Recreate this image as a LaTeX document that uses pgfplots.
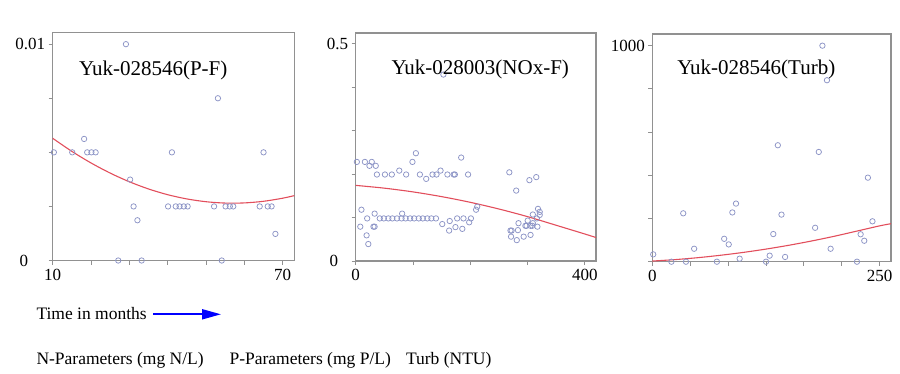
\documentclass[border=0pt]{standalone}
\usepackage{fontspec}
\setmainfont{Liberation Serif}
\usepackage{pgfplots}
\pgfplotsset{compat=1.18}
\usetikzlibrary{arrows.meta}
\definecolor{mk}{RGB}{140,148,198}
\definecolor{fit}{RGB}{226,78,92}
\definecolor{frame}{RGB}{145,145,145}
\pgfplotsset{
  panel/.style={
    scale only axis,
    axis line style={frame, line width=1.1pt},
    tick style={frame, line width=1pt},
    tick align=outside,
    tick pos=left,
    major tick length=4pt,
    /pgf/number format/assume math mode=true,
    ticklabel style={font=\fontsize{17}{19}\selectfont},
    xticklabel style={yshift=-1pt},
    height=228pt,
  },
  pts/.style={only marks, mark=o, mark size=2.7pt, mark options={draw=mk, line width=0.75pt}},
  fitl/.style={no marks, fit, line width=1.1pt, smooth},
}
\begin{document}
\begin{tikzpicture}
\path[use as bounding box] (0pt,0pt) rectangle (900pt,373pt);

% ---------- Panel 1 ----------
\begin{axis}[panel, at={(52.7pt,112.5pt)}, anchor=south west, width=241.8pt,
  xmin=10, xmax=73.08, ymin=0, ymax=0.01054,
  xtick={10,20,30,40,50,60,70}, xticklabels={10,,,,,,70},
  ytick={0,0.0025,0.005,0.0075,0.01}, yticklabels={0\hspace*{17pt},,,,0.01},
  scaled y ticks=false]
\addplot[pts] coordinates {
(10.3,0.005) (15.1,0.005) (18.2,0.00562) (19.0,0.005) (20.1,0.005) (21.2,0.005)
(29.1,0.01) (30.2,0.00374) (31.1,0.0025) (32.1,0.00186) (27.1,0) (33.2,0)
(40.1,0.0025) (41.1,0.005) (42.1,0.0025) (43.1,0.0025) (44.2,0.0025) (45.2,0.0025)
(52.1,0.0025) (53.1,0.0075) (54.1,0) (55.1,0.0025) (56.2,0.0025) (57.1,0.0025)
(64.0,0.0025) (65.0,0.005) (66.1,0.0025) (67.1,0.0025) (68.1,0.00123)
};
\addplot[fitl] coordinates {
(10,0.00565) (15,0.005045) (20,0.004509) (25,0.004041) (30,0.00364) (35,0.003307)
(40,0.003042) (45,0.002846) (50,0.002717) (55,0.002655) (60,0.002662) (65,0.002737)
(70,0.00288) (73.1,0.003002)
};
\end{axis}
\node[font=\fontsize{21}{25}\selectfont] at (153.3pt,303pt) {Yuk-028546(P-F)};

% ---------- Panel 2 ----------
\begin{axis}[panel, at={(355.7pt,112pt)}, anchor=south west, width=240.3pt,
  xmin=0, xmax=419.2, ymin=0, ymax=0.5246,
  xtick={0,100,200,300,400}, xticklabels={0,,,,400},
  ytick={0,0.1,0.2,0.3,0.4,0.5}, yticklabels={0\hspace*{10pt},,,,,0.5}]
\addplot[pts] coordinates {
(2,0.228) (16,0.228) (24,0.219) (28,0.228) (35,0.219) (37,0.199) (51,0.199) (63,0.199)
(76,0.208) (88,0.199) (99,0.228) (105,0.248) (112,0.199) (123,0.189) (134,0.199)
(141,0.199) (148,0.208) (160,0.199) (171,0.199) (173,0.199) (184,0.238) (196,0.199)
(153,0.429) (268,0.204) (280,0.162) (303,0.186) (315,0.193)
(10,0.118) (8,0.079) (20,0.098) (19,0.059) (22,0.039) (31,0.079) (33,0.079) (33,0.109)
(42,0.098) (49,0.098) (57,0.098) (64,0.098) (72,0.098) (80,0.098) (87,0.098) (95,0.098)
(102,0.098) (110,0.098) (117,0.098) (125,0.098) (132,0.098) (140,0.098) (81,0.109)
(151,0.085) (163,0.070) (164,0.092) (174,0.078) (177,0.098) (186,0.074) (188,0.098)
(198,0.089) (201,0.098) (210,0.118) (212,0.125)
(270,0.070) (272,0.070) (271,0.056) (281,0.048) (283,0.071) (284,0.087) (293,0.056)
(296,0.081) (298,0.081) (300,0.093) (305,0.060) (305,0.081) (308,0.081) (309,0.087)
(309,0.107) (316,0.098) (317,0.079) (318,0.120) (321,0.106) (321,0.113)
};
\addplot[fitl] coordinates {
(0,0.174) (50,0.1676) (100,0.159) (150,0.1481) (200,0.135) (250,0.1196)
(300,0.102) (350,0.0821) (400,0.062) (419.2,0.054)
};
\end{axis}
\node[font=\fontsize{21}{25}\selectfont] at (480.3pt,304pt) {Yuk-028003(NOx-F)};

% ---------- Panel 3 ----------
\begin{axis}[panel, at={(652.3pt,111.3pt)}, anchor=south west, width=238.7pt, height=227.7pt,
  xmin=0, xmax=262.4, ymin=0, ymax=1054,
  xtick={0,41.667,83.333,125,166.667,208.333,250}, xticklabels={0,,,,,,250},
  ytick={0,200,400,600,800,1000}, yticklabels={,,,,,1000}]
\addplot[pts] coordinates {
(1,34) (21,0) (37,0) (34,224) (46,60) (71,0) (79,106) (84,80) (88,228) (92,269)
(96,14) (125,0) (129,28) (133,128) (138,539) (142,218) (146,22) (179,157) (183,508)
(187,1000) (192,840) (196,60) (225,0) (229,127) (233,97) (237,389) (242,187)
};
\addplot[fitl] coordinates {
(0,3) (25,9.7) (50,18.6) (75,29.8) (100,43) (125,58.4) (150,76) (175,95.8)
(200,117.7) (225,141.8) (250,166) (262.4,176)
};
\end{axis}
\node[font=\fontsize{21}{25}\selectfont] at (756.3pt,304pt) {Yuk-028546(Turb)};

% ---------- Bottom texts ----------
\node[font=\fontsize{17.5}{20}\selectfont, anchor=west] at (33pt,59.7pt) {Time in months};
\draw[blue, line width=2pt, -{Triangle[length=19pt,width=10pt]}] (153pt,58.7pt) -- (221pt,58.7pt);
\node[font=\fontsize{17.5}{20}\selectfont, anchor=west] at (33pt,13pt) {N-Parameters (mg N/L)};
\node[font=\fontsize{17.5}{20}\selectfont, anchor=west] at (226pt,13pt) {P-Parameters (mg P/L)};
\node[font=\fontsize{17.5}{20}\selectfont, anchor=west] at (402.5pt,13pt) {Turb (NTU)};
\end{tikzpicture}
\end{document}
